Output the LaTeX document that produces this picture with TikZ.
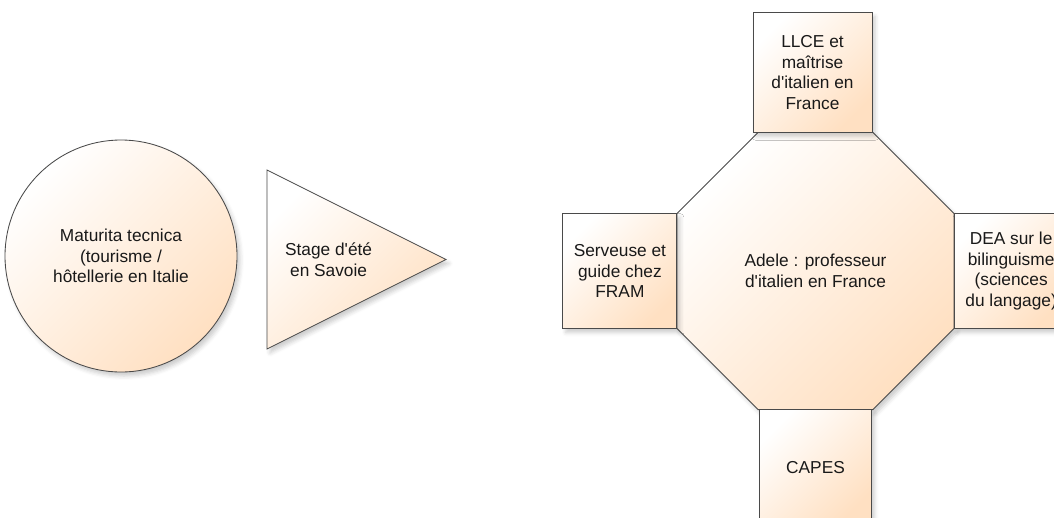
\documentclass[tikz,border=0pt]{standalone}
\usepackage{fontspec}
\setmainfont{Liberation Sans}
\usetikzlibrary{positioning, shapes.geometric, shadows.blur}

\definecolor{peachlight}{HTML}{FFFFFF}
\definecolor{peachdark}{HTML}{FFE0C2}
\definecolor{edgegray}{HTML}{4A4A4A}

\begin{document}
\begin{tikzpicture}[
        x=1pt, y=-1pt,
        node distance=0pt,
        shapebox/.style={draw=edgegray, line width=0.85pt, top color=peachlight, bottom color=peachdark, shading angle=45, text=black!90, font=\fontsize{17.3}{20.5}\selectfont, align=center, inner sep=0pt, outer sep=0pt, blur shadow={shadow xshift=3pt, shadow yshift=-4pt, shadow blur radius=4pt, shadow opacity=20}},
        square/.style={shapebox, rectangle, minimum width=114pt, minimum height=115pt}
    ]
    \clip (0,0) rectangle (1054,517);

    % Nodes
    \node (maturita) [shapebox, circle, minimum size=232pt] at (121,256) {Maturita tecnica\\(tourisme /\\hôtellerie en Italie};
    \node (stage) [shapebox, isosceles triangle, isosceles triangle stretches, minimum width=179pt, minimum height=179pt, anchor=lower side] at (267,259.5) {Stage d\textquotesingle été\\en Savoie};

    \node (adele) [shapebox, regular polygon, regular polygon sides=8, minimum size=300pt] at (815.5,271) {Adele : professeur\\d\textquotesingle italien en France};
    \node (llce) [square, minimum width=119pt, minimum height=120pt, above=of adele, xshift=-3pt] {LLCE et\\maîtrise\\d\textquotesingle italien en\\France};
    \node (fram) [square, left=of adele] {Serveuse et\\guide chez\\FRAM};
    \node (dea) [square, right=of adele] {DEA sur le\\bilinguisme\\(sciences\\du langage)};
    \node (capes) [square, minimum width=112pt, below=of adele] {CAPES};

\end{tikzpicture}
\end{document}
